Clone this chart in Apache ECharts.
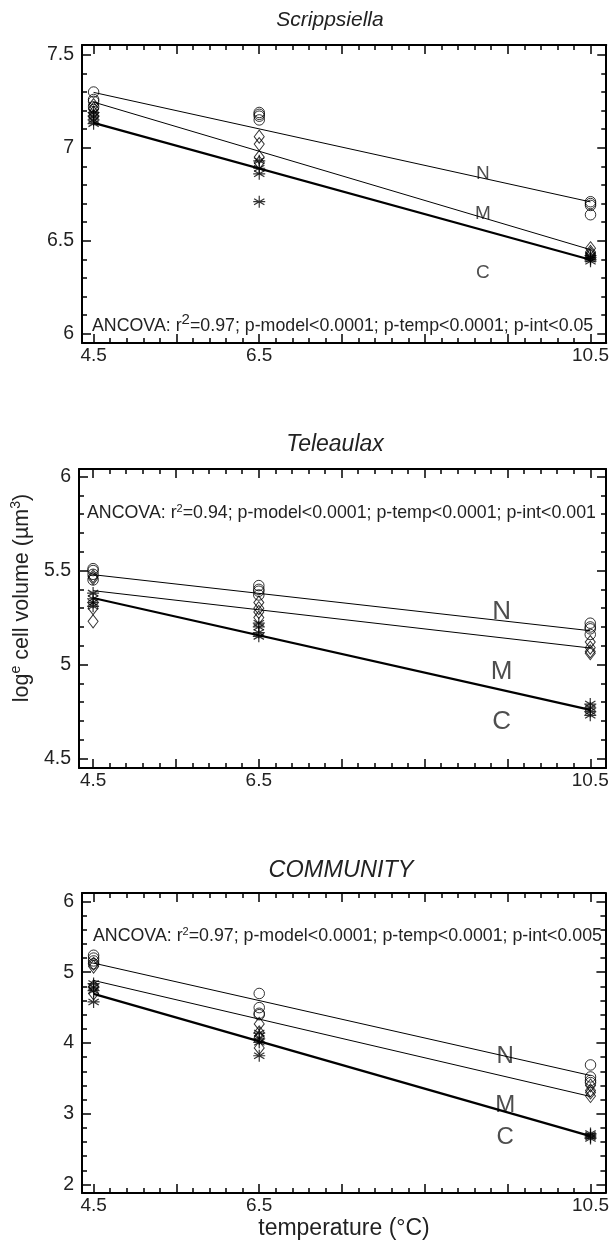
<!DOCTYPE html>
<html>
<head>
<meta charset="utf-8">
<script src="https://cdn.jsdelivr.net/npm/echarts@6/dist/echarts.min.js"></script>
<style>
html,body{margin:0;padding:0;background:#fff;}
#main{width:612px;height:1250px;}
</style>
</head>
<body>
<div id="main"></div>
<script>
// temperatures (°C) of the three treatments
var temps = [4.5, 6.5, 10.5];
var fitX = [4.5, 10.5];
var xTickLabels = [4.5, 6.5, 10.5];
var xMajorTicks = [4.5, 5.5, 6.5, 7.5, 8.5, 9.5, 10.5];

// Scrippsiella: replicate values at 4.5 / 6.5 / 10.5 °C
var scrN = [[7.30, 7.26, 7.25, 7.22], [7.19, 7.18, 7.17, 7.15], [6.71, 6.70, 6.69, 6.64]];
var scrM = [[7.23, 7.21, 7.19, 7.17], [7.06, 7.02, 6.95, 6.92], [6.46, 6.44, 6.43, 6.42]];
var scrC = [[7.19, 7.17, 7.15, 7.13], [6.93, 6.89, 6.86, 6.71], [6.42, 6.41, 6.40, 6.39]];
var scrFitN = [7.298, 6.709];
var scrFitM = [7.246, 6.452];
var scrFitC = [7.134, 6.398];
var scrYTicks = [6, 6.5, 7, 7.5];

// Teleaulax
var telN = [[5.51, 5.50, 5.48, 5.45], [5.42, 5.40, 5.39, 5.37], [5.22, 5.20, 5.19, 5.16]];
var telM = [[5.47, 5.46, 5.30, 5.23], [5.33, 5.30, 5.28, 5.25], [5.12, 5.09, 5.07, 5.06]];
var telC = [[5.38, 5.35, 5.33, 5.31], [5.22, 5.20, 5.17, 5.15], [4.79, 4.77, 4.75, 4.73]];
var telFitN = [5.478, 5.180];
var telFitM = [5.393, 5.088];
var telFitC = [5.354, 4.759];
var telYTicks = [4.5, 5, 5.5, 6];

// Community
var comN = [[5.24, 5.20, 5.16, 5.12], [4.70, 4.50, 4.42, 4.40], [3.69, 3.52, 3.47, 3.44]];
var comM = [[5.12, 5.08, 4.80, 4.70], [4.27, 4.15, 4.08, 3.93], [3.40, 3.33, 3.30, 3.25]];
var comC = [[4.84, 4.79, 4.74, 4.58], [4.14, 4.06, 4.01, 3.82], [2.72, 2.70, 2.67, 2.65]];
var comFitN = [5.129, 3.541];
var comFitM = [4.884, 3.244];
var comFitC = [4.695, 2.684];
var comYTicks = [2, 3, 4, 5, 6];

var titles = ['Scrippsiella', 'Teleaulax', 'COMMUNITY'];
var ancovaText = [
  ['0.97', '0.0001', '0.0001', '0.05'],
  ['0.94', '0.0001', '0.0001', '0.001'],
  ['0.97', '0.0001', '0.0001', '0.005']
];
var groupNames = ['N', 'M', 'C'];

var FONT = '"Liberation Sans", Arial, Helvetica, sans-serif';
var INK = '#222';

var panels = [
  { N: scrN, M: scrM, C: scrC, fit: [scrFitN, scrFitM, scrFitC], yTicks: scrYTicks, yStep: 0.1,
    grid: { left: 82, top: 45, width: 526, height: 298 }, xMin: 4.36, xMax: 10.69, yMin: 5.95, yMax: 7.553,
    labelX: 9.2, labelY: [6.86, 6.645, 6.33], labelSize: 19,
    titleX: 330, titleY: 20, titleSize: 21, ancova: { x: 92, y: 324 }, supSize: 15 },
  { N: telN, M: telM, C: telC, fit: [telFitN, telFitM, telFitC], yTicks: telYTicks, yStep: 0.1,
    grid: { left: 79, top: 469, width: 527, height: 299 }, xMin: 4.33, xMax: 10.69, yMin: 4.45, yMax: 6.04,
    labelX: 9.43, labelY: [5.282, 4.959, 4.696], labelSize: 26,
    titleX: 335, titleY: 445, titleSize: 23, ancova: { x: 87, y: 513 }, supSize: 11 },
  { N: comN, M: comM, C: comC, fit: [comFitN, comFitM, comFitC], yTicks: comYTicks, yStep: 0.2,
    grid: { left: 82, top: 893, width: 526, height: 300 }, xMin: 4.36, xMax: 10.68, yMin: 1.88, yMax: 6.12,
    labelX: 9.47, labelY: [3.809, 3.117, 2.67], labelSize: 24,
    titleX: 341, titleY: 870, titleSize: 23.5, ancova: { x: 93, y: 936 }, supSize: 11 }
];

function minorTicks(lo, hi, step, majors) {
  var out = [];
  var n = Math.round((hi - lo) / step);
  for (var i = 0; i <= n; i++) {
    var v = +(lo + i * step).toFixed(3);
    if (majors.indexOf(v) < 0) out.push(v);
  }
  return out;
}

var tickLine = { color: '#000', width: 1.5 };
var xAxes = [], yAxes = [], series = [], grids = [], graphics = [];

panels.forEach(function (p, g) {
  grids.push(p.grid);
  var xMinor = minorTicks(4.5, 10.5, 0.2, xMajorTicks);
  var yMinor = minorTicks(p.yTicks[0], p.yTicks[p.yTicks.length - 1], p.yStep, p.yTicks);

  ['bottom', 'top'].forEach(function (pos) {
    xAxes.push({
      gridIndex: g, type: 'value', min: p.xMin, max: p.xMax, position: pos,
      axisLine: { onZero: false, lineStyle: { color: '#000', width: 2 } },
      axisTick: { inside: true, length: 9, customValues: xMajorTicks, lineStyle: tickLine },
      axisLabel: pos === 'bottom'
        ? { customValues: xTickLabels, margin: 3, fontSize: 19, color: INK, fontFamily: FONT }
        : { show: false },
      splitLine: { show: false }
    });
    xAxes.push({
      gridIndex: g, type: 'value', min: p.xMin, max: p.xMax, position: pos,
      axisLine: { show: false },
      axisTick: { inside: true, length: 5, customValues: xMinor, lineStyle: tickLine },
      axisLabel: { show: false }, splitLine: { show: false }
    });
  });
  ['left', 'right'].forEach(function (pos) {
    yAxes.push({
      gridIndex: g, type: 'value', min: p.yMin, max: p.yMax, position: pos,
      axisLine: { onZero: false, lineStyle: { color: '#000', width: 2 } },
      axisTick: { inside: true, length: 9, customValues: p.yTicks, lineStyle: tickLine },
      axisLabel: pos === 'left'
        ? { customValues: p.yTicks, margin: 8, fontSize: 19.5, color: INK, fontFamily: FONT }
        : { show: false },
      splitLine: { show: false }
    });
    yAxes.push({
      gridIndex: g, type: 'value', min: p.yMin, max: p.yMax, position: pos,
      axisLine: { show: false },
      axisTick: { inside: true, length: 5, customValues: yMinor, lineStyle: tickLine },
      axisLabel: { show: false }, splitLine: { show: false }
    });
  });

  var xi = g * 4, yi = g * 4;

  // fitted regression lines
  p.fit.forEach(function (f, k) {
    series.push({
      type: 'line', xAxisIndex: xi, yAxisIndex: yi, symbol: 'none', silent: true,
      data: [[fitX[0], f[0]], [fitX[1], f[1]]],
      lineStyle: { color: '#000', width: k === 2 ? 2.2 : 1 }
    });
  });

  // replicate points
  var symbols = ['circle', 'diamond', 'path://M5,0L5,10M0.7,2.5L9.3,7.5M0.7,7.5L9.3,2.5M0,5L10,5'];
  var sizes = [10.5, [10, 13], 12];
  [p.N, p.M, p.C].forEach(function (grp, k) {
    var pts = [];
    grp.forEach(function (vals, ti) {
      vals.forEach(function (v) { pts.push([temps[ti], v]); });
    });
    series.push({
      type: 'scatter', xAxisIndex: xi, yAxisIndex: yi, symbol: symbols[k], symbolSize: sizes[k],
      data: pts,
      itemStyle: { color: 'rgba(0,0,0,0)', borderColor: '#000', borderWidth: k === 2 ? 1.2 : 1 }
    });
  });

  // N / M / C labels
  series.push({
    type: 'scatter', xAxisIndex: xi, yAxisIndex: yi, symbolSize: 1, silent: true,
    itemStyle: { color: 'rgba(0,0,0,0)' },
    data: groupNames.map(function (n, k) { return [p.labelX, p.labelY[k], n]; }),
    label: {
      show: true, position: 'inside', fontSize: p.labelSize, color: INK, fontFamily: FONT,
      formatter: function (d) { return d.value[2]; }
    }
  });

  // panel title
  graphics.push({
    type: 'text', x: p.titleX, y: p.titleY,
    style: { text: titles[g], fontSize: p.titleSize, fontStyle: 'italic', fontFamily: FONT, fill: INK,
             align: 'center', verticalAlign: 'middle' }
  });

  // ANCOVA statistics
  var a = ancovaText[g];
  graphics.push({
    type: 'text', x: p.ancova.x, y: p.ancova.y,
    style: {
      text: '{a|ANCOVA: r}{s|2}{a|=' + a[0] + '; p-model<' + a[1] + '; p-temp<' + a[2] + '; p-int<' + a[3] + '}',
      align: 'left', verticalAlign: 'middle', fontFamily: FONT, fill: INK,
      rich: {
        a: { fontSize: 17.8, fontFamily: FONT, fill: INK, verticalAlign: 'bottom' },
        s: { fontSize: p.supSize, fontFamily: FONT, fill: INK, verticalAlign: 'bottom', padding: [0, 0, 8, 0] }
      }
    }
  });
});

// axis titles
graphics.push({
  type: 'text', x: 21, y: 598, rotation: Math.PI / 2,
  style: {
    text: '{a|log}{s|e}{a| cell volume (µm}{s|3}{a|)}',
    align: 'center', verticalAlign: 'middle', fontFamily: FONT, fill: INK,
    rich: {
      a: { fontSize: 21.5, fontFamily: FONT, fill: INK, verticalAlign: 'bottom' },
      s: { fontSize: 14, fontFamily: FONT, fill: INK, verticalAlign: 'bottom', padding: [0, 0, 10, 0] }
    }
  }
});
graphics.push({
  type: 'text', x: 344, y: 1229,
  style: { text: 'temperature (°C)', fontSize: 23, fontFamily: FONT, fill: INK,
           align: 'center', verticalAlign: 'middle' }
});

var chart = echarts.init(document.getElementById('main'), null, { renderer: 'canvas' });
chart.setOption({
  animation: false,
  backgroundColor: '#fff',
  grid: grids,
  xAxis: xAxes,
  yAxis: yAxes,
  series: series,
  graphic: graphics
});
</script>
</body>
</html>
